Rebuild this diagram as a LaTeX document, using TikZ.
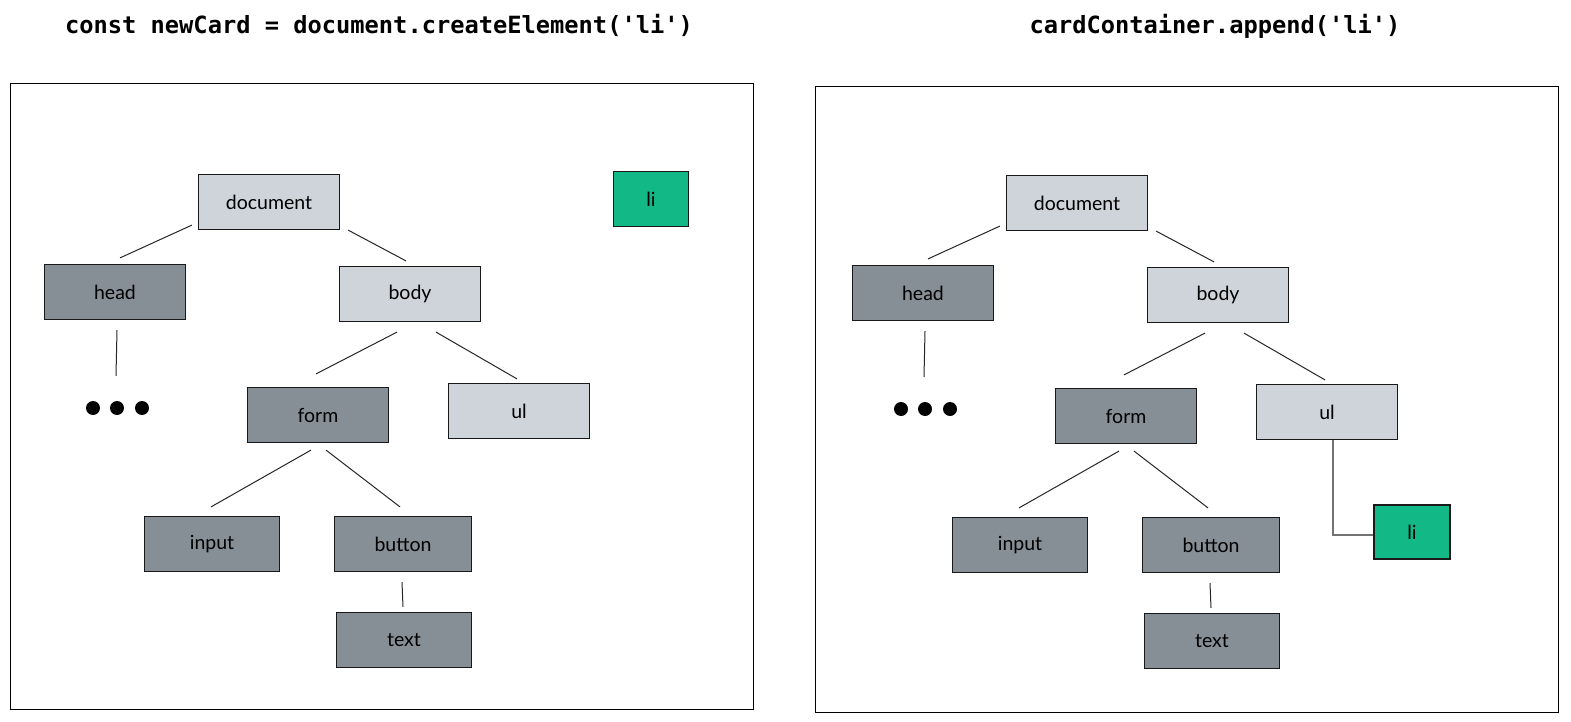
\documentclass[tikz,border=0pt]{standalone}
\usepackage{fontspec}
\setmainfont{Lato}
\newfontfamily\codefont{DejaVu Sans Mono}
\usetikzlibrary{calc}
\definecolor{lightbox}{HTML}{CED4DA}
\definecolor{darkbox}{HTML}{868E96}
\definecolor{greenbox}{HTML}{12B886}
\tikzset{
  box/.style={draw=black!90, line width=1.2pt, minimum width=141pt, minimum height=55pt, inner sep=0pt, font=\fontsize{19.5}{19.5}\selectfont},
  lightnode/.style={box, fill=lightbox},
  darknode/.style={box, fill=darkbox},
  greennode/.style={box, fill=greenbox, minimum width=75pt, minimum height=55pt},
  conn/.style={draw=black!85, line width=1pt},
  elbow/.style={draw=black!55, line width=1.2pt},
  frame/.style={draw=black, line width=0.9pt},
  dot/.style={circle, fill=black, inner sep=0pt, minimum size=14pt},
  title/.style={font=\codefont\bfseries\fontsize{23.7}{23.7}\selectfont, inner sep=0pt}
}
\newcommand\domtree{
  \node[lightnode] (doc) at (269,202) {document};
  \node[darknode] (head) at (115,292) {head};
  \node[lightnode] (body) at (410,294) {body};
  \node[darknode] (form) at (318,415) {form};
  \node[lightnode] (ul) at (519,411) {ul};
  \node[darknode, minimum width=135pt] (input) at (212,544) {input};
  \node[darknode, minimum width=137pt] (button) at (403,544) {button};
  \node[darknode, minimum width=135pt] (txt) at (404,640) {text};
  \node[dot] (d1) at (93,408) {};
  \node[dot] (d2) at (117,408) {};
  \node[dot] (d3) at (142,408) {};
  \draw[conn] ($(doc.south west)+(-6,-5)$) -- ($(head.north)+(5,-6)$);
  \draw[conn] ($(doc.south east)+(8,0)$) -- ($(body.north)+(-4,-5)$);
  \draw[conn] ($(head.south)+(2,10)$) -- ($(d2.north)+(-1,-25)$);
  \draw[conn] ($(body.south)+(-13,10)$) -- ($(form.north)+(-2,-13)$);
  \draw[conn] ($(body.south)+(26,10)$) -- ($(ul.north)+(-2,-4)$);
  \draw[conn] ($(form.south)+(-7,7)$) -- ($(input.north)+(-1,-9)$);
  \draw[conn] ($(form.south)+(8,7)$) -- ($(button.north)+(-3,-9)$);
  \draw[conn] ($(button.south)+(-1,10)$) -- ($(txt.north)+(-1,-5)$);
}
\begin{document}
\begin{tikzpicture}[x=1pt, y=-1pt]
  \useasboundingbox (0,0) rectangle (1571,722);
  \node[title] (t1) at (379,25) {const newCard = document.createElement('li')};
  \node[title] (t2) at (1215,26) {cardContainer.append('li')};
  \draw[frame] (10,83) rectangle (753,709);
  \draw[frame] (815,86) rectangle (1558,712);
  \begin{scope}[name prefix=L-]
    \domtree
    \node[greennode] (li) at (651,199) {li};
  \end{scope}
  \begin{scope}[shift={(808,1)}, name prefix=R-]
    \domtree
    \node[greennode, minimum width=76pt, minimum height=54pt] (li) at (604,531) {li};
    \draw[elbow] ($(ul.south)+(6,0)$) |- ($(li.west)+(0,3)$);
  \end{scope}
\end{tikzpicture}
\end{document}
